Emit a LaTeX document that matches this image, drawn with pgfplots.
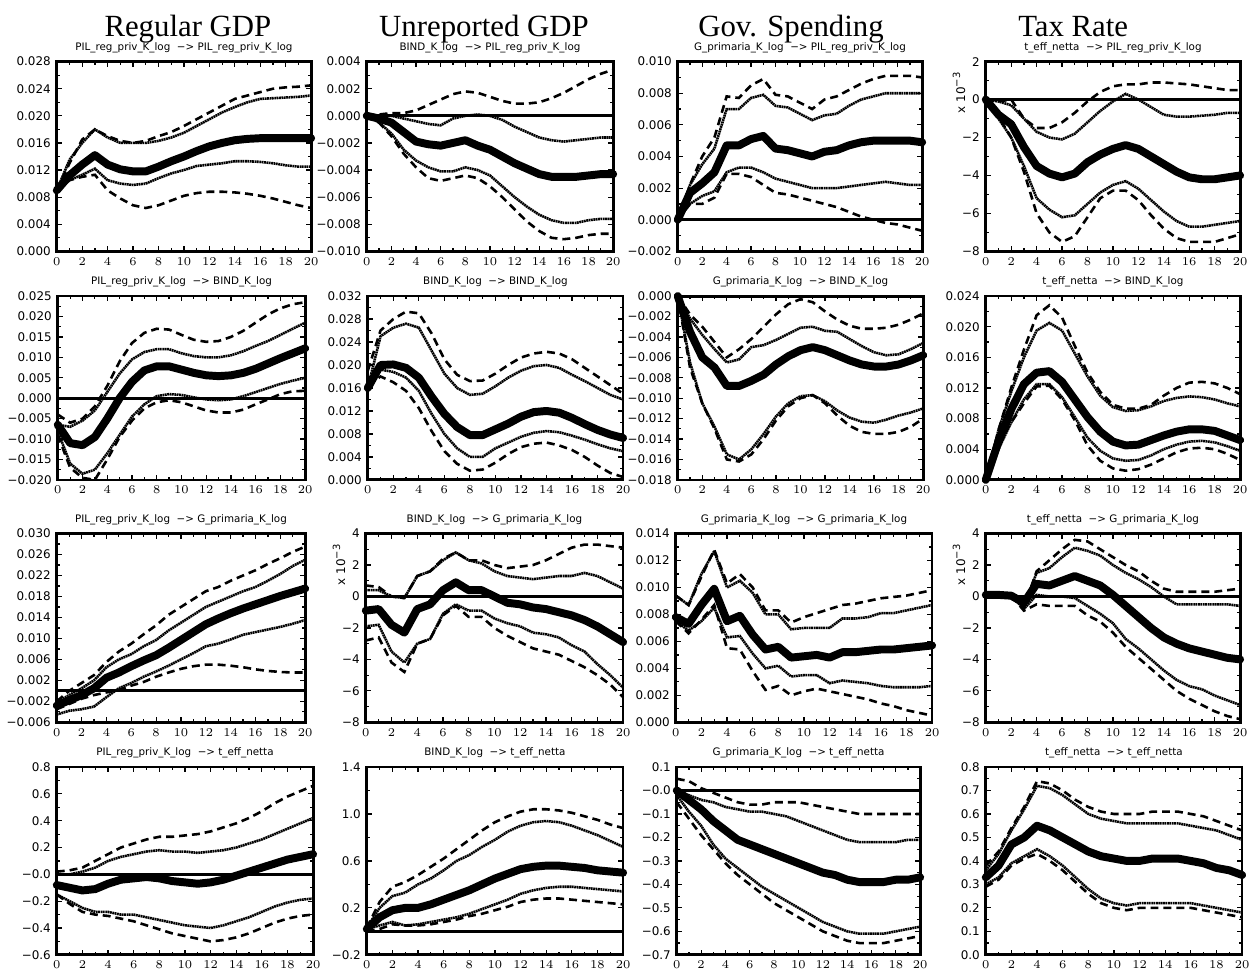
\documentclass[border=0pt]{standalone}
\usepackage{pgfplots}
\pgfplotsset{compat=1.18}
\usepackage{pgfplotstable}
\usepackage{fontspec}
\setmainfont{Liberation Serif}
\newfontfamily\titlefam{Liberation Serif}
\newfontfamily\sansf{DejaVu Sans}
\newcommand\tickf{\sansf\fontsize{6}{7}\selectfont}
\newcommand\subf{\sansf\fontsize{5.2}{6}\selectfont}
\newcommand\titlef{\titlefam\fontsize{15.5}{18}\selectfont}

\pgfplotstableread{
x m a b c d
0 0.0090 0.0090 0.0090 0.0090 0.0090
1 0.0112 0.0135 0.0130 0.0105 0.0105
2 0.0128 0.0160 0.0165 0.0113 0.0110
3 0.0142 0.0180 0.0180 0.0122 0.0113
4 0.0128 0.0168 0.0170 0.0105 0.0090
5 0.0121 0.0160 0.0163 0.0100 0.0078
6 0.0118 0.0160 0.0160 0.0098 0.0068
7 0.0118 0.0160 0.0163 0.0100 0.0064
8 0.0125 0.0163 0.0170 0.0108 0.0068
9 0.0133 0.0168 0.0176 0.0115 0.0075
10 0.0140 0.0175 0.0185 0.0120 0.0082
11 0.0148 0.0185 0.0195 0.0126 0.0086
12 0.0155 0.0195 0.0205 0.0128 0.0088
13 0.0160 0.0205 0.0215 0.0130 0.0088
14 0.0164 0.0213 0.0225 0.0133 0.0087
15 0.0166 0.0220 0.0230 0.0133 0.0085
16 0.0167 0.0225 0.0235 0.0132 0.0082
17 0.0167 0.0226 0.0240 0.0130 0.0078
18 0.0167 0.0227 0.0242 0.0127 0.0073
19 0.0167 0.0228 0.0243 0.0125 0.0068
20 0.0167 0.0230 0.0245 0.0125 0.0064
}\tAA
\pgfplotstableread{
x m a b c d
0 0 0 0 0 0
1 -0.0002 0.0000 0.0001 -0.0005 -0.0005
2 -0.0005 0.0000 0.0002 -0.0013 -0.0015
3 -0.0012 -0.0002 0.0002 -0.0025 -0.0028
4 -0.0019 -0.0004 0.0004 -0.0033 -0.0038
5 -0.0021 -0.0006 0.0008 -0.0038 -0.0046
6 -0.0022 -0.0007 0.0012 -0.0041 -0.0048
7 -0.0020 -0.0002 0.0016 -0.0041 -0.0046
8 -0.0018 0.0000 0.0018 -0.0038 -0.0044
9 -0.0022 0.0001 0.0017 -0.0040 -0.0046
10 -0.0025 0.0000 0.0014 -0.0044 -0.0052
11 -0.0030 -0.0003 0.0011 -0.0052 -0.0060
12 -0.0035 -0.0008 0.0009 -0.0060 -0.0069
13 -0.0039 -0.0012 0.0009 -0.0067 -0.0078
14 -0.0043 -0.0016 0.0010 -0.0073 -0.0085
15 -0.0045 -0.0018 0.0013 -0.0077 -0.0090
16 -0.0045 -0.0019 0.0017 -0.0079 -0.0091
17 -0.0045 -0.0018 0.0022 -0.0079 -0.0090
18 -0.0044 -0.0017 0.0027 -0.0077 -0.0088
19 -0.0043 -0.0016 0.0031 -0.0076 -0.0087
20 -0.0043 -0.0016 0.0034 -0.0076 -0.0087
}\tAB
\pgfplotstableread{
x m a b c d
0 0 0 0 0 0
1 0.0017 0.0022 0.0022 0.0010 0.0010
2 0.0023 0.0035 0.0040 0.0015 0.0010
3 0.0030 0.0045 0.0052 0.0018 0.0014
4 0.0047 0.0070 0.0078 0.0030 0.0029
5 0.0047 0.0070 0.0077 0.0033 0.0029
6 0.0051 0.0077 0.0085 0.0033 0.0027
7 0.0053 0.0079 0.0089 0.0030 0.0022
8 0.0045 0.0072 0.0079 0.0026 0.0017
9 0.0044 0.0071 0.0078 0.0024 0.0016
10 0.0042 0.0067 0.0074 0.0022 0.0014
11 0.0040 0.0063 0.0070 0.0020 0.0012
12 0.0043 0.0066 0.0076 0.0020 0.0010
13 0.0044 0.0067 0.0078 0.0020 0.0008
14 0.0047 0.0072 0.0082 0.0021 0.0005
15 0.0049 0.0076 0.0086 0.0022 0.0002
16 0.0050 0.0078 0.0089 0.0023 0.0000
17 0.0050 0.0080 0.0091 0.0024 -0.0002
18 0.0050 0.0080 0.0091 0.0023 -0.0003
19 0.0050 0.0080 0.0091 0.0022 -0.0005
20 0.0049 0.0080 0.0090 0.0022 -0.0007
}\tAC
\pgfplotstableread{
x m a b c d
0 0 0 0 0 0
1 -0.8 -0.1 -0.1 -1.0 -0.9
2 -1.3 -0.3 0.0 -2.0 -2.0
3 -2.5 -1.0 -1.0 -3.5 -3.8
4 -3.5 -1.7 -1.5 -5.2 -6.0
5 -3.9 -2.0 -1.5 -5.8 -7.0
6 -4.1 -2.1 -1.2 -6.2 -7.5
7 -3.9 -1.8 -0.7 -6.1 -7.2
8 -3.3 -1.2 -0.1 -5.5 -6.2
9 -2.9 -0.6 0.4 -4.9 -5.2
10 -2.6 -0.1 0.7 -4.5 -4.8
11 -2.4 0.3 0.8 -4.3 -4.8
12 -2.6 0.0 0.8 -4.7 -5.3
13 -3.0 -0.4 0.9 -5.3 -6.1
14 -3.4 -0.8 0.9 -5.9 -6.8
15 -3.8 -0.9 0.85 -6.4 -7.3
16 -4.1 -0.9 0.8 -6.7 -7.5
17 -4.2 -0.85 0.7 -6.7 -7.5
18 -4.2 -0.8 0.6 -6.6 -7.5
19 -4.1 -0.7 0.5 -6.5 -7.3
20 -4.0 -0.7 0.5 -6.4 -7.1
}\tAD
\pgfplotstableread{
x m a b c d
0 -0.0065 -0.0065 -0.0040 -0.0080 -0.0090
1 -0.0110 -0.0070 -0.0060 -0.0160 -0.0170
2 -0.0115 -0.0055 -0.0050 -0.0185 -0.0195
3 -0.0095 -0.0030 -0.0020 -0.0175 -0.0200
4 -0.0050 0.0015 0.0030 -0.0135 -0.0150
5 0.0000 0.0060 0.0090 -0.0090 -0.0095
6 0.0040 0.0095 0.0135 -0.0045 -0.0055
7 0.0068 0.0113 0.0160 -0.0015 -0.0025
8 0.0078 0.0120 0.0170 0.0005 -0.0010
9 0.0078 0.0120 0.0168 0.0010 -0.0005
10 0.0070 0.0110 0.0155 0.0008 -0.0010
11 0.0062 0.0103 0.0143 0.0002 -0.0020
12 0.0056 0.0100 0.0138 -0.0003 -0.0030
13 0.0054 0.0100 0.0140 -0.0005 -0.0035
14 0.0056 0.0105 0.0150 -0.0003 -0.0035
15 0.0062 0.0115 0.0165 0.0005 -0.0028
16 0.0072 0.0128 0.0185 0.0015 -0.0015
17 0.0085 0.0140 0.0205 0.0025 -0.0003
18 0.0098 0.0155 0.0220 0.0035 0.0010
19 0.0110 0.0170 0.0230 0.0043 0.0017
20 0.0122 0.0185 0.0235 0.0050 0.0018
}\tBA
\pgfplotstableread{
x m a b c d
0 0.0160 0.0160 0.0190 0.0160 0.0165
1 0.0200 0.0250 0.0260 0.0192 0.0180
2 0.0201 0.0265 0.0280 0.0188 0.0170
3 0.0195 0.0272 0.0293 0.0178 0.0155
4 0.0178 0.0265 0.0290 0.0155 0.0125
5 0.0145 0.0225 0.0255 0.0115 0.0085
6 0.0115 0.0185 0.0210 0.0080 0.0050
7 0.0092 0.0160 0.0183 0.0055 0.0028
8 0.0078 0.0148 0.0172 0.0040 0.0016
9 0.0078 0.0150 0.0173 0.0040 0.0018
10 0.0088 0.0163 0.0185 0.0055 0.0030
11 0.0098 0.0178 0.0200 0.0065 0.0045
12 0.0110 0.0190 0.0213 0.0075 0.0057
13 0.0118 0.0198 0.0220 0.0082 0.0063
14 0.0120 0.0200 0.0223 0.0085 0.0065
15 0.0117 0.0195 0.0220 0.0083 0.0060
16 0.0108 0.0183 0.0210 0.0077 0.0052
17 0.0097 0.0172 0.0195 0.0070 0.0040
18 0.0087 0.0160 0.0180 0.0062 0.0025
19 0.0079 0.0148 0.0165 0.0055 0.0012
20 0.0073 0.0140 0.0150 0.0050 0.0005
}\tBB
\pgfplotstableread{
x m a b c d
0 0 0 0 0 0
1 -0.0035 -0.0022 -0.0018 -0.0065 -0.0070
2 -0.0060 -0.0038 -0.0030 -0.0105 -0.0105
3 -0.0070 -0.0052 -0.0045 -0.0128 -0.0130
4 -0.0088 -0.0065 -0.0060 -0.0155 -0.0160
5 -0.0088 -0.0062 -0.0052 -0.0160 -0.0162
6 -0.0083 -0.0050 -0.0042 -0.0150 -0.0155
7 -0.0077 -0.0048 -0.0030 -0.0135 -0.0140
8 -0.0067 -0.0043 -0.0018 -0.0118 -0.0122
9 -0.0059 -0.0037 -0.0008 -0.0105 -0.0108
10 -0.0053 -0.0031 -0.0003 -0.0098 -0.0100
11 -0.0050 -0.0030 -0.0006 -0.0097 -0.0097
12 -0.0053 -0.0034 -0.0015 -0.0103 -0.0105
13 -0.0058 -0.0035 -0.0023 -0.0112 -0.0117
14 -0.0063 -0.0042 -0.0029 -0.0119 -0.0127
15 -0.0067 -0.0049 -0.0032 -0.0123 -0.0133
16 -0.0069 -0.0055 -0.0032 -0.0124 -0.0135
17 -0.0069 -0.0058 -0.0031 -0.0121 -0.0135
18 -0.0067 -0.0057 -0.0028 -0.0117 -0.0133
19 -0.0063 -0.0052 -0.0023 -0.0114 -0.0128
20 -0.0058 -0.0046 -0.0017 -0.0110 -0.0120
}\tBC
\pgfplotstableread{
x m a b c d
0 0 0 0 0 0
1 0.0050 0.0065 0.0065 0.0040 0.0045
2 0.0092 0.0115 0.0120 0.0075 0.0075
3 0.0125 0.0160 0.0170 0.0105 0.0100
4 0.0140 0.0195 0.0215 0.0125 0.0122
5 0.0142 0.0205 0.0228 0.0125 0.0123
6 0.0128 0.0195 0.0212 0.0108 0.0105
7 0.0105 0.0165 0.0175 0.0082 0.0078
8 0.0082 0.0135 0.0140 0.0055 0.0045
9 0.0063 0.0110 0.0115 0.0038 0.0025
10 0.0050 0.0095 0.0098 0.0028 0.0015
11 0.0045 0.0090 0.0093 0.0025 0.0012
12 0.0046 0.0091 0.0093 0.0026 0.0014
13 0.0052 0.0096 0.0098 0.0032 0.0020
14 0.0058 0.0103 0.0110 0.0040 0.0028
15 0.0063 0.0107 0.0120 0.0046 0.0036
16 0.0066 0.0109 0.0127 0.0050 0.0041
17 0.0066 0.0108 0.0128 0.0051 0.0042
18 0.0064 0.0105 0.0126 0.0049 0.0040
19 0.0058 0.0100 0.0120 0.0044 0.0034
20 0.0052 0.0096 0.0112 0.0038 0.0026
}\tBD
\pgfplotstableread{
x m a b c d
0 -0.0028 -0.0022 -0.0020 -0.0045 -0.0035
1 -0.0018 -0.0008 0.0000 -0.0038 -0.0025
2 -0.0008 0.0005 0.0015 -0.0035 -0.0015
3 0.0005 0.0020 0.0030 -0.0030 -0.0008
4 0.0025 0.0045 0.0055 -0.0012 -0.0003
5 0.0035 0.0060 0.0075 0.0005 0.0002
6 0.0047 0.0070 0.0090 0.0015 0.0010
7 0.0058 0.0085 0.0108 0.0027 0.0017
8 0.0068 0.0097 0.0125 0.0037 0.0027
9 0.0082 0.0115 0.0145 0.0048 0.0035
10 0.0097 0.0130 0.0160 0.0060 0.0042
11 0.0112 0.0145 0.0175 0.0072 0.0047
12 0.0127 0.0160 0.0190 0.0085 0.0050
13 0.0138 0.0170 0.0198 0.0090 0.0050
14 0.0148 0.0180 0.0210 0.0098 0.0048
15 0.0157 0.0190 0.0220 0.0107 0.0045
16 0.0165 0.0198 0.0230 0.0112 0.0041
17 0.0173 0.0210 0.0242 0.0117 0.0038
18 0.0181 0.0223 0.0253 0.0122 0.0036
19 0.0188 0.0238 0.0265 0.0128 0.0035
20 0.0195 0.0250 0.0275 0.0135 0.0035
}\tCA
\pgfplotstableread{
x m a b c d
0 -0.9 0.4 0.7 -1.9 -2.8
1 -0.8 0.4 0.6 -1.8 -2.6
2 -1.8 0.0 0.0 -3.5 -4.2
3 -2.3 -0.1 -0.1 -4.2 -4.8
4 -0.8 1.3 1.3 -3.0 -3.0
5 -0.5 1.6 1.6 -2.7 -2.7
6 0.4 2.3 2.4 -1.1 -1.2
7 0.9 2.8 2.8 -0.5 -0.6
8 0.4 2.3 2.3 -0.9 -1.3
9 0.4 2.1 2.3 -0.9 -1.3
10 0.0 1.6 2.0 -1.4 -2.0
11 -0.4 1.3 1.8 -1.7 -2.5
12 -0.5 1.2 1.9 -1.9 -2.9
13 -0.7 1.1 2.0 -2.3 -3.3
14 -0.8 1.2 2.3 -2.4 -3.5
15 -1.0 1.3 2.7 -2.6 -3.7
16 -1.2 1.3 3.1 -3.1 -4.1
17 -1.5 1.5 3.3 -3.5 -4.5
18 -1.9 1.3 3.3 -4.3 -5.0
19 -2.4 0.9 3.2 -5.0 -5.6
20 -2.9 0.5 3.1 -5.8 -6.4
}\tCB
\pgfplotstableread{
x m a b c d
0 0.0078 0.0094 0.0094 0.0075 0.0075
1 0.0073 0.0087 0.0087 0.0068 0.0066
2 0.0087 0.0110 0.0108 0.0075 0.0076
3 0.0099 0.0127 0.0128 0.0085 0.0087
4 0.0075 0.0100 0.0103 0.0063 0.0055
5 0.0079 0.0105 0.0110 0.0064 0.0054
6 0.0065 0.0096 0.0100 0.0051 0.0038
7 0.0054 0.0080 0.0083 0.0040 0.0024
8 0.0056 0.0080 0.0083 0.0042 0.0027
9 0.0048 0.0069 0.0074 0.0034 0.0020
10 0.0049 0.0070 0.0078 0.0035 0.0023
11 0.0050 0.0070 0.0081 0.0035 0.0025
12 0.0048 0.0070 0.0084 0.0029 0.0023
13 0.0052 0.0077 0.0087 0.0031 0.0021
14 0.0052 0.0077 0.0088 0.0030 0.0019
15 0.0053 0.0078 0.0090 0.0029 0.0017
16 0.0054 0.0081 0.0092 0.0027 0.0014
17 0.0054 0.0081 0.0093 0.0026 0.0012
18 0.0055 0.0083 0.0094 0.0026 0.0009
19 0.0056 0.0085 0.0096 0.0026 0.0007
20 0.0057 0.0087 0.0098 0.0027 0.0005
}\tCC
\pgfplotstableread{
x m a b c d
0 0.1 0.1 0.1 0.1 0.1
1 0.1 0.1 0.1 0.1 0.1
2 0.05 0.05 0.05 0.05 0.05
3 -0.4 -0.6 -0.7 -0.8 -0.9
4 0.8 1.5 1.6 0.1 -0.5
5 0.7 1.8 2.3 0.0 -0.6
6 1.0 2.5 3.0 0.0 -0.6
7 1.3 3.1 3.6 -0.1 -0.6
8 1.0 2.9 3.5 -0.6 -1.2
9 0.7 2.6 3.0 -1.1 -1.6
10 0.1 2.0 2.5 -1.7 -2.3
11 -0.6 1.5 2.0 -2.7 -3.2
12 -1.3 1.1 1.6 -3.3 -3.9
13 -2.0 0.6 1.0 -4.0 -4.6
14 -2.6 0.0 0.5 -4.7 -5.3
15 -3.0 -0.5 0.3 -5.3 -6.0
16 -3.3 -0.5 0.3 -5.7 -6.5
17 -3.5 -0.5 0.3 -5.9 -6.9
18 -3.7 -0.5 0.3 -6.3 -7.3
19 -3.9 -0.5 0.4 -6.6 -7.6
20 -4.0 -0.6 0.5 -6.9 -7.8
}\tCD
\pgfplotstableread{
x m a b c d
0 -0.08 0.00 0.02 -0.15 -0.15
1 -0.10 0.00 0.03 -0.20 -0.22
2 -0.12 0.02 0.05 -0.25 -0.28
3 -0.11 0.05 0.10 -0.28 -0.30
4 -0.07 0.10 0.15 -0.28 -0.31
5 -0.04 0.13 0.20 -0.30 -0.33
6 -0.03 0.15 0.23 -0.30 -0.35
7 -0.02 0.17 0.26 -0.32 -0.38
8 -0.03 0.18 0.28 -0.34 -0.41
9 -0.05 0.17 0.28 -0.36 -0.44
10 -0.06 0.17 0.29 -0.38 -0.46
11 -0.07 0.16 0.30 -0.39 -0.48
12 -0.06 0.17 0.32 -0.40 -0.50
13 -0.04 0.18 0.35 -0.38 -0.49
14 -0.01 0.20 0.38 -0.35 -0.47
15 0.02 0.23 0.42 -0.32 -0.44
16 0.05 0.26 0.47 -0.28 -0.40
17 0.08 0.30 0.53 -0.24 -0.36
18 0.11 0.34 0.58 -0.21 -0.33
19 0.13 0.38 0.62 -0.19 -0.31
20 0.15 0.42 0.66 -0.18 -0.30
}\tDA
\pgfplotstableread{
x m a b c d
0 0.02 0.03 0.03 0.02 0.00
1 0.12 0.20 0.25 0.05 0.02
2 0.18 0.30 0.38 0.08 0.06
3 0.20 0.33 0.42 0.05 0.05
4 0.20 0.40 0.48 0.06 0.05
5 0.23 0.45 0.55 0.08 0.06
6 0.27 0.52 0.62 0.10 0.08
7 0.31 0.60 0.70 0.12 0.10
8 0.35 0.65 0.78 0.15 0.13
9 0.40 0.72 0.86 0.19 0.15
10 0.45 0.78 0.93 0.23 0.18
11 0.49 0.85 0.98 0.27 0.21
12 0.53 0.90 1.02 0.32 0.25
13 0.55 0.93 1.04 0.35 0.27
14 0.56 0.94 1.04 0.37 0.28
15 0.56 0.93 1.03 0.38 0.28
16 0.55 0.90 1.01 0.38 0.27
17 0.54 0.86 0.98 0.37 0.26
18 0.52 0.82 0.95 0.36 0.25
19 0.51 0.77 0.91 0.35 0.24
20 0.50 0.72 0.88 0.34 0.23
}\tDB
\pgfplotstableread{
x m a b c d
0 0.00 0.00 0.05 -0.02 -0.05
1 -0.04 -0.02 0.04 -0.09 -0.12
2 -0.08 -0.04 0.01 -0.15 -0.19
3 -0.13 -0.05 -0.01 -0.23 -0.25
4 -0.17 -0.07 -0.03 -0.29 -0.31
5 -0.21 -0.08 -0.05 -0.33 -0.36
6 -0.23 -0.09 -0.06 -0.37 -0.40
7 -0.25 -0.09 -0.06 -0.41 -0.44
8 -0.27 -0.10 -0.05 -0.44 -0.48
9 -0.29 -0.11 -0.05 -0.47 -0.51
10 -0.31 -0.13 -0.05 -0.50 -0.54
11 -0.33 -0.15 -0.06 -0.53 -0.57
12 -0.35 -0.17 -0.07 -0.56 -0.60
13 -0.36 -0.19 -0.08 -0.58 -0.62
14 -0.38 -0.21 -0.09 -0.60 -0.64
15 -0.39 -0.22 -0.10 -0.61 -0.65
16 -0.39 -0.22 -0.10 -0.61 -0.65
17 -0.39 -0.22 -0.10 -0.61 -0.65
18 -0.38 -0.22 -0.10 -0.60 -0.64
19 -0.38 -0.21 -0.10 -0.59 -0.63
20 -0.37 -0.21 -0.10 -0.58 -0.62
}\tDC
\pgfplotstableread{
x m a b c d
0 0.33 0.36 0.38 0.30 0.29
1 0.38 0.43 0.44 0.33 0.32
2 0.47 0.53 0.54 0.39 0.38
3 0.50 0.62 0.63 0.42 0.41
4 0.55 0.72 0.74 0.45 0.43
5 0.53 0.71 0.73 0.42 0.40
6 0.50 0.68 0.70 0.38 0.36
7 0.47 0.64 0.66 0.33 0.31
8 0.44 0.60 0.63 0.28 0.26
9 0.42 0.58 0.61 0.24 0.22
10 0.41 0.57 0.60 0.22 0.20
11 0.40 0.56 0.60 0.21 0.19
12 0.40 0.56 0.60 0.22 0.20
13 0.41 0.56 0.61 0.22 0.20
14 0.41 0.56 0.61 0.22 0.20
15 0.41 0.56 0.61 0.22 0.20
16 0.40 0.55 0.60 0.22 0.20
17 0.39 0.54 0.59 0.21 0.19
18 0.37 0.53 0.57 0.20 0.18
19 0.36 0.51 0.55 0.19 0.17
20 0.34 0.49 0.53 0.18 0.16
}\tDD

\pgfplotsset{
  irf/.style={
    anchor=north west, scale only axis, clip=false,
    scaled y ticks=false, scaled x ticks=false,
    xmin=0, xmax=20, xtick={0,2,...,20}, minor x tick num=1,
    minor y tick num=1,
    tick align=inside, major tick length=2.5pt, minor tick length=1.5pt,
    axis line style={line width=1.4pt},
    every tick/.style={line width=0.6pt, black},
    tick label style={font=\tickf},
    yticklabel style={xshift=0.5pt},
    xticklabel style={yshift=0.5pt},
  },
  med/.style={line width=4pt, line cap=round, line join=round, black},
  dot/.style={line width=1.3pt, dash pattern=on 0.9pt off 0.3pt, black},
  dsh/.style={line width=1.3pt, dash pattern=on 4pt off 2.5pt, black},
  zl/.style={line width=1.5pt, black},
}
\newcommand{\curves}[1]{%
  \addplot[zl] coordinates {(0,0) (20,0)};
  \addplot[dsh] table[x=x,y=b]{#1};
  \addplot[dsh] table[x=x,y=d]{#1};
  \addplot[dot] table[x=x,y=a]{#1};
  \addplot[dot] table[x=x,y=c]{#1};
  \addplot[med] table[x=x,y=m]{#1};
}
\newcommand{\sub}[1]{\node[font=\subf] at ([yshift=7pt]rel axis cs:0.5,1) {#1};}
\newcommand{\scl}{\node[font=\tickf, rotate=90, anchor=east] at ([xshift=-13.5pt,yshift=-1.5pt]rel axis cs:0,1) {x 10\textsuperscript{−3}};}

\begin{document}
\begin{tikzpicture}
\path (0,0) rectangle (628pt,-488pt);
\node[font=\titlef, anchor=base] at (92pt,-18.5pt) {Regular GDP};
\node[font=\titlef, anchor=base] at (241pt,-18.5pt) {Unreported GDP};
\node[font=\titlef, anchor=base] at (395.5pt,-18.5pt) {Gov. Spending};
\node[font=\titlef, anchor=base] at (537.5pt,-18.5pt) {Tax Rate};

% Row 1
\begin{axis}[irf, at={(26pt,-31pt)}, width=128pt, height=95.5pt,
  ymin=0, ymax=0.028, ytick={0,0.004,0.008,0.012,0.016,0.020,0.024,0.028},
  yticklabels={0.000,0.004,0.008,0.012,0.016,0.020,0.024,0.028}]
\curves{\tAA}
\sub{PIL\_reg\_priv\_K\_log \ −> PIL\_reg\_priv\_K\_log}
\end{axis}
\begin{axis}[irf, at={(182pt,-31pt)}, width=124pt, height=95.5pt,
  ymin=-0.010, ymax=0.004, ytick={-0.010,-0.008,-0.006,-0.004,-0.002,0,0.002,0.004},
  yticklabels={−0.010,−0.008,−0.006,−0.004,−0.002,0.000,0.002,0.004}]
\curves{\tAB}
\sub{BIND\_K\_log \ −> PIL\_reg\_priv\_K\_log}
\end{axis}
\begin{axis}[irf, at={(338.5pt,-31pt)}, width=123pt, height=95.5pt,
  ymin=-0.002, ymax=0.010, ytick={-0.002,0,0.002,0.004,0.006,0.008,0.010},
  yticklabels={−0.002,0.000,0.002,0.004,0.006,0.008,0.010}]
\curves{\tAC}
\sub{G\_primaria\_K\_log \ −> PIL\_reg\_priv\_K\_log}
\end{axis}
\begin{axis}[irf, at={(493.5pt,-31pt)}, width=128pt, height=95.5pt,
  ymin=-8, ymax=2, ytick={-8,-6,-4,-2,0,2},
  yticklabels={−8,−6,−4,−2,0,2}]
\curves{\tAD}
\sub{t\_eff\_netta \ −> PIL\_reg\_priv\_K\_log}
\scl
\end{axis}

% Row 2
\begin{axis}[irf, at={(26.5pt,-149pt)}, width=124.5pt, height=92.5pt,
  ymin=-0.020, ymax=0.025, ytick={-0.020,-0.015,-0.010,-0.005,0,0.005,0.010,0.015,0.020,0.025},
  yticklabels={−0.020,−0.015,−0.010,−0.005,0.000,0.005,0.010,0.015,0.020,0.025}]
\curves{\tBA}
\sub{PIL\_reg\_priv\_K\_log \ −> BIND\_K\_log}
\end{axis}
\begin{axis}[irf, at={(182.5pt,-149pt)}, width=128.5pt, height=92.5pt,
  ymin=0, ymax=0.032, ytick={0,0.004,0.008,0.012,0.016,0.020,0.024,0.028,0.032},
  yticklabels={0.000,0.004,0.008,0.012,0.016,0.020,0.024,0.028,0.032}]
\curves{\tBB}
\sub{BIND\_K\_log \ −> BIND\_K\_log}
\end{axis}
\begin{axis}[irf, at={(338.5pt,-149pt)}, width=123.5pt, height=92.5pt,
  ymin=-0.018, ymax=0, ytick={-0.018,-0.016,-0.014,-0.012,-0.010,-0.008,-0.006,-0.004,-0.002,0},
  yticklabels={−0.018,−0.016,−0.014,−0.012,−0.010,−0.008,−0.006,−0.004,−0.002,0.000}]
\curves{\tBC}
\sub{G\_primaria\_K\_log \ −> BIND\_K\_log}
\end{axis}
\begin{axis}[irf, at={(493.5pt,-149pt)}, width=128pt, height=92.5pt,
  ymin=0, ymax=0.024, ytick={0,0.004,0.008,0.012,0.016,0.020,0.024},
  yticklabels={0.000,0.004,0.008,0.012,0.016,0.020,0.024}]
\curves{\tBD}
\sub{t\_eff\_netta \ −> BIND\_K\_log}
\end{axis}

% Row 3
\begin{axis}[irf, at={(26pt,-268.5pt)}, width=125pt, height=95pt,
  ymin=-0.006, ymax=0.030, ytick={-0.006,-0.002,0.002,0.006,0.010,0.014,0.018,0.022,0.026,0.030},
  yticklabels={−0.006,−0.002,0.002,0.006,0.010,0.014,0.018,0.022,0.026,0.030}]
\curves{\tCA}
\sub{PIL\_reg\_priv\_K\_log \ −> G\_primaria\_K\_log}
\end{axis}
\begin{axis}[irf, at={(181.5pt,-268.5pt)}, width=129.5pt, height=95pt,
  ymin=-8, ymax=4, ytick={-8,-6,-4,-2,0,2,4},
  yticklabels={−8,−6,−4,−2,0,2,4}]
\curves{\tCB}
\sub{BIND\_K\_log \ −> G\_primaria\_K\_log}
\scl
\end{axis}
\begin{axis}[irf, at={(337.5pt,-268.5pt)}, width=129pt, height=95pt,
  ymin=0, ymax=0.014, ytick={0,0.002,0.004,0.006,0.008,0.010,0.012,0.014},
  yticklabels={0.000,0.002,0.004,0.006,0.008,0.010,0.012,0.014}]
\curves{\tCC}
\sub{G\_primaria\_K\_log \ −> G\_primaria\_K\_log}
\end{axis}
\begin{axis}[irf, at={(493.5pt,-268.5pt)}, width=128pt, height=95pt,
  ymin=-8, ymax=4, ytick={-8,-6,-4,-2,0,2,4},
  yticklabels={−8,−6,−4,−2,0,2,4}]
\curves{\tCD}
\sub{t\_eff\_netta \ −> G\_primaria\_K\_log}
\scl
\end{axis}

% Row 4
\begin{axis}[irf, at={(26pt,-386pt)}, width=129pt, height=94.5pt,
  ymin=-0.6, ymax=0.8, ytick={-0.6,-0.4,-0.2,0,0.2,0.4,0.6,0.8},
  yticklabels={−0.6,−0.4,−0.2,−0.0,0.2,0.4,0.6,0.8}]
\curves{\tDA}
\sub{PIL\_reg\_priv\_K\_log \ −> t\_eff\_netta}
\end{axis}
\begin{axis}[irf, at={(182pt,-386pt)}, width=129pt, height=94.5pt,
  ymin=-0.2, ymax=1.4, ytick={-0.2,0.2,0.6,1.0,1.4},
  yticklabels={−0.2,0.2,0.6,1.0,1.4}]
\curves{\tDB}
\sub{BIND\_K\_log \ −> t\_eff\_netta}
\end{axis}
\begin{axis}[irf, at={(338pt,-386pt)}, width=122.5pt, height=94.5pt,
  ymin=-0.7, ymax=0.1, ytick={-0.7,-0.6,-0.5,-0.4,-0.3,-0.2,-0.1,0,0.1},
  yticklabels={−0.7,−0.6,−0.5,−0.4,−0.3,−0.2,−0.1,−0.0,0.1}]
\curves{\tDC}
\sub{G\_primaria\_K\_log \ −> t\_eff\_netta}
\end{axis}
\begin{axis}[irf, at={(493.5pt,-386pt)}, width=129pt, height=94.5pt,
  ymin=0, ymax=0.8, ytick={0,0.1,0.2,0.3,0.4,0.5,0.6,0.7,0.8},
  yticklabels={0.0,0.1,0.2,0.3,0.4,0.5,0.6,0.7,0.8}]
\curves{\tDD}
\sub{t\_eff\_netta \ −> t\_eff\_netta}
\end{axis}
\end{tikzpicture}
\end{document}
